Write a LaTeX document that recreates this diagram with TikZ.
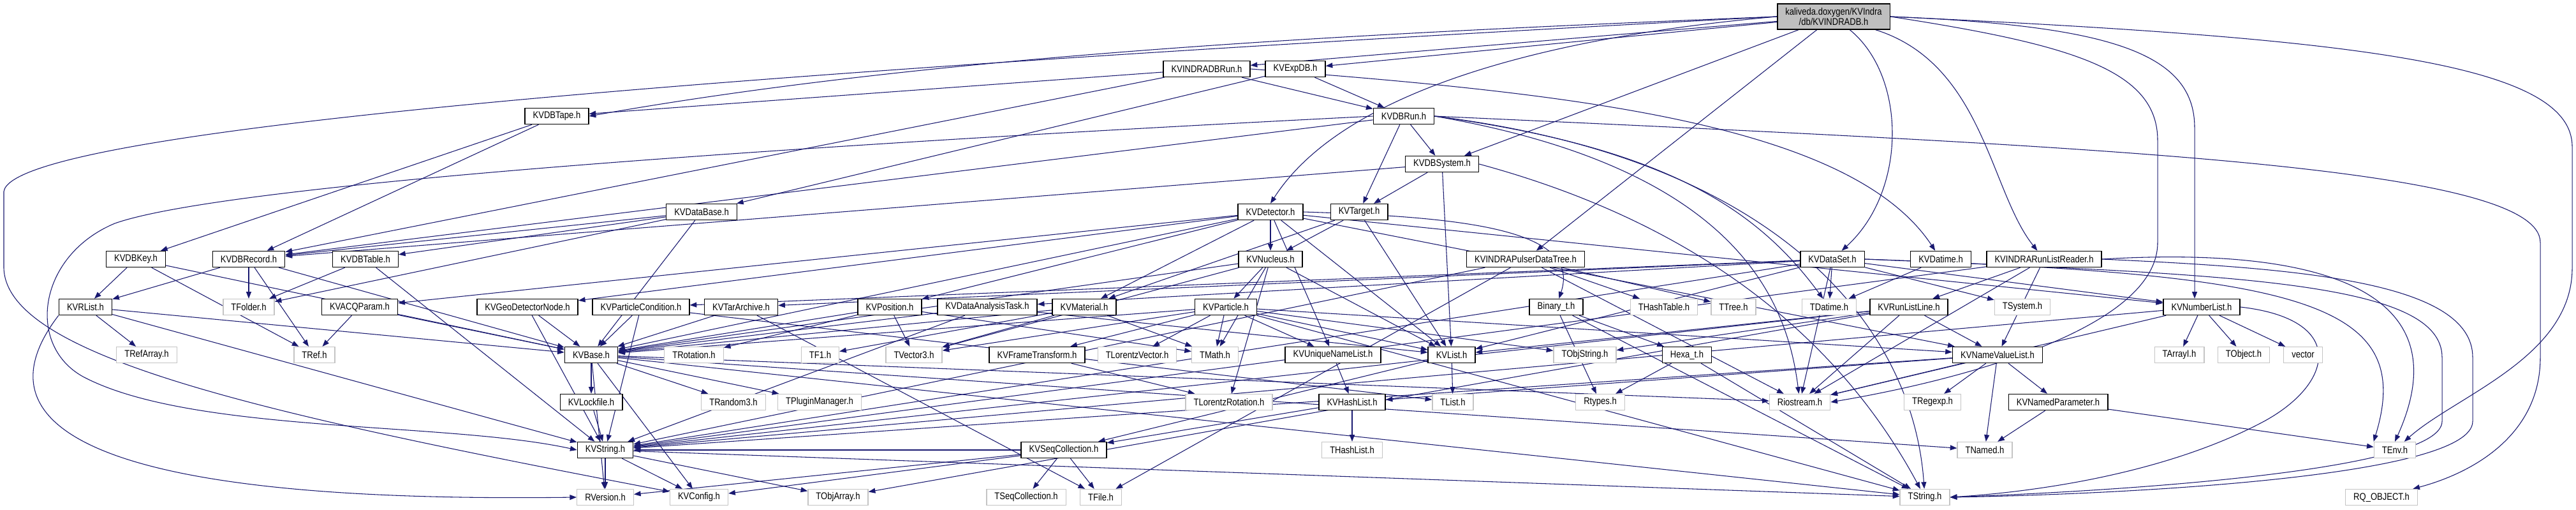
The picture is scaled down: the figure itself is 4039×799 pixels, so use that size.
\documentclass[tikz,border=0pt]{standalone}
\usepackage{fontspec}
\setmainfont{Liberation Sans}[FakeStretch=0.85]
\usepackage{tikz}
\usetikzlibrary{arrows.meta, backgrounds}
\definecolor{DGNavy}{RGB}{25,25,112}
\definecolor{DGGray}{RGB}{191,191,191}
\definecolor{DGLine}{RGB}{196,196,196}

\begin{document}
\begin{tikzpicture}[x=0.75pt, y=-0.75pt,
    hdr/.style={rectangle, draw=black, line width=1.1pt, fill=white,
                minimum height=18.75pt, inner xsep=9.4pt, inner ysep=0pt,
                font=\fontsize{11.5pt}{12pt}\selectfont},
    ext/.style={hdr, draw=DGLine, line width=1pt},
    rootf/.style={hdr, fill=DGGray, align=center, minimum height=30pt},
    arr/.style={-{Triangle[length=8pt, width=6pt]}, DGNavy, line width=0.8pt}
  ]
  % file being documented
  \node[rootf] (R) at (2875,26) {kaliveda.doxygen/KVIndra\\/db/KVINDRADB.h};

  % rank 1 - 4
  \node[hdr] (irun)     at (1892,108) {KVINDRADBRun.h};
  \node[hdr] (expdb)    at (2031,108) {KVExpDB.h};
  \node[hdr] (tape)     at (873,182)  {KVDBTape.h};
  \node[hdr] (dbrun)    at (2201,182) {KVDBRun.h};
  \node[hdr] (dbsys)    at (2261,257) {KVDBSystem.h};
  \node[hdr] (database) at (1100,332) {KVDataBase.h};
  \node[hdr] (detector) at (1992,332) {KVDetector.h};
  \node[hdr] (target)   at (2131,332) {KVTarget.h};

  % rank 5
  \node[hdr] (dbkey)    at (213,406)  {KVDBKey.h};
  \node[hdr] (dbrec)    at (390,406)  {KVDBRecord.h};
  \node[hdr] (dbtable)  at (573,406)  {KVDBTable.h};
  \node[hdr] (nucleus)  at (1992,406) {KVNucleus.h};
  \node[hdr] (pulser)   at (2392,406) {KVINDRAPulserDataTree.h};
  \node[hdr] (dataset)  at (2873,406) {KVDataSet.h};
  \node[hdr] (datime)   at (3043,406) {KVDatime.h};
  \node[hdr] (rlreader) at (3205,406) {KVINDRARunListReader.h};

  % rank 6
  \node[hdr] (rlist)      at (134,481)  {KVRList.h};
  \node[ext] (tfolder)    at (390,481)  {TFolder.h};
  \node[hdr] (acq)        at (564,481)  {KVACQParam.h};
  \node[hdr] (geonode)    at (827,481)  {KVGeoDetectorNode.h};
  \node[hdr] (partcond)   at (1005,481) {KVParticleCondition.h};
  \node[hdr] (tar)        at (1162,481) {KVTarArchive.h};
  \node[hdr] (position)   at (1395,481) {KVPosition.h};
  \node[hdr] (dat)        at (1548,481) {KVDataAnalysisTask.h};
  \node[hdr] (material)   at (1700,481) {KVMaterial.h};
  \node[hdr] (particle)   at (1922,481) {KVParticle.h};
  \node[hdr] (binary)     at (2440,481) {Binary\_t.h};
  \node[ext] (thashtable) at (2609,481) {THashTable.h};
  \node[ext] (ttree)      at (2718,481) {TTree.h};
  \node[ext] (tdatime)    at (2868,481) {TDatime.h};
  \node[hdr] (rlline)     at (2993,481) {KVRunListLine.h};
  \node[ext] (tsystem)    at (3171,481) {TSystem.h};
  \node[hdr] (numlist)    at (3452,481) {KVNumberList.h};

  % rank 7
  \node[ext] (trefarray)  at (230,556)  {TRefArray.h};
  \node[ext] (tref)       at (493,556)  {TRef.h};
  \node[hdr] (kvbase)     at (927,556)  {KVBase.h};
  \node[ext] (trotation)  at (1088,556) {TRotation.h};
  \node[ext] (tf1)        at (1286,556) {TF1.h};
  \node[ext] (tvector3)   at (1433,556) {TVector3.h};
  \node[hdr] (frame)      at (1626,556) {KVFrameTransform.h};
  \node[ext] (tlorentzv)  at (1783,556) {TLorentzVector.h};
  \node[ext] (tmath)      at (1905,556) {TMath.h};
  \node[hdr] (uniq)       at (2090,556) {KVUniqueNameList.h};
  \node[hdr] (kvlist)     at (2276,556) {KVList.h};
  \node[ext] (tobjstring) at (2485,556) {TObjString.h};
  \node[hdr] (hexa)       at (2645,556) {Hexa\_t.h};
  \node[hdr] (namevalue)  at (3132,556) {KVNameValueList.h};
  \node[ext] (tarrayi)    at (3417,556) {TArrayI.h};
  \node[ext] (tobject)    at (3518,556) {TObject.h};
  \node[ext] (vector)     at (3611,556) {vector};

  % rank 8
  \node[hdr] (lockfile)   at (927,630)  {KVLockfile.h};
  \node[ext] (trandom3)   at (1150,630) {TRandom3.h};
  \node[ext] (tplugin)    at (1285,630) {TPluginManager.h};
  \node[ext] (lorentzrot) at (1927,630) {TLorentzRotation.h};
  \node[hdr] (hashlist)   at (2120,630) {KVHashList.h};
  \node[ext] (tlist)      at (2278,630) {TList.h};
  \node[ext] (rtypes)     at (2509,630) {Rtypes.h};
  \node[ext] (riostream)  at (2822,630) {Riostream.h};
  \node[ext] (tregexp)    at (3030,630) {TRegexp.h};
  \node[hdr] (namedpar)   at (3227,630) {KVNamedParameter.h};

  % rank 9 - 10
  \node[hdr] (kvstring)   at (949,705)  {KVString.h};
  \node[hdr] (seqcoll)    at (1668,705) {KVSeqCollection.h};
  \node[ext] (thashlist)  at (2120,705) {THashList.h};
  \node[ext] (tnamed)     at (3112,705) {TNamed.h};
  \node[ext] (tenv)       at (3755,705) {TEnv.h};
  \node[ext] (rversion)   at (949,779)  {RVersion.h};
  \node[ext] (kvconfig)   at (1096,779) {KVConfig.h};
  \node[ext] (tobjarray)  at (1314,779) {TObjArray.h};
  \node[ext] (tseqcoll)   at (1609,779) {TSeqCollection.h};
  \node[ext] (tfile)      at (1726,779) {TFile.h};
  \node[ext] (tstring)    at (3018,779) {TString.h};
  \node[ext] (rqobject)   at (3734,779) {RQ\_OBJECT.h};

  \begin{pgfonlayer}{background}
    \path[use as bounding box, fill=white] (0,0) rectangle (4039,799);
    % plain includes
    \foreach \a/\b in {R/irun, R/expdb, R/dbsys, R/pulser,
        irun/tape, irun/dbrun, irun/dbrec, expdb/dbrun, expdb/database,
        tape/dbkey, tape/dbrec,
        dbrun/dbsys, dbrun/target, dbrun/dbrec,
        dbsys/target, dbsys/kvlist, dbsys/dbrec,
        database/dbtable, database/dbrec, database/tfolder, database/kvbase,
        detector/nucleus, detector/material, detector/position, detector/acq,
        detector/geonode, detector/kvlist, detector/uniq, detector/kvbase,
        detector/numlist, detector/namevalue,
        target/nucleus, target/material, target/kvlist,
        nucleus/particle, nucleus/kvbase, nucleus/kvlist, nucleus/tvector3,
        nucleus/tmath, nucleus/lorentzrot,
        particle/tvector3, particle/tlorentzv, particle/tmath, particle/frame,
        particle/kvbase, particle/uniq, particle/namevalue, particle/tobjstring,
        particle/kvlist, particle/tstring,
        material/kvbase, material/tvector3, material/tf1, material/tmath,
        position/tvector3, position/trotation, position/kvbase, position/tmath,
        frame/lorentzrot, dat/kvbase, dat/kvstring, dat/kvlist,
        geonode/kvbase, geonode/kvstring, partcond/kvbase, partcond/kvstring,
        partcond/tlist, tar/kvbase, tar/tfile, acq/tref, acq/kvbase,
        dbkey/rlist, dbkey/tref, dbkey/kvbase,
        dbrec/tfolder, dbrec/rlist, dbrec/tref, dbrec/kvbase,
        dbtable/tfolder, dbtable/kvstring,
        rlist/trefarray, rlist/kvbase, rlist/kvstring,
        pulser/thashtable, pulser/ttree, pulser/tfile, pulser/kvstring,
        pulser/riostream,
        binary/rtypes, binary/hexa, binary/tstring, hexa/rtypes, hexa/tstring,
        dataset/tdatime, dataset/tsystem, dataset/kvlist, dataset/partcond,
        dataset/tar, dataset/dat, dataset/numlist, dataset/kvstring,
        dataset/riostream, datime/tdatime,
        rlreader/rlline, rlreader/namevalue, rlreader/riostream, rlreader/kvstring,
        rlline/riostream, rlline/namevalue, rlline/kvlist, rlline/kvstring,
        rlline/tobjarray, rlline/tobjstring,
        numlist/tarrayi, numlist/tobject, numlist/vector, numlist/riostream,
        numlist/kvstring,
        namevalue/tregexp, namevalue/tnamed, namevalue/namedpar,
        namevalue/hashlist, namevalue/riostream, namevalue/kvstring,
        namedpar/tnamed, namedpar/tenv, uniq/hashlist,
        hashlist/thashlist, hashlist/seqcoll, kvlist/tlist, kvlist/seqcoll,
        seqcoll/tseqcoll, seqcoll/tfile, seqcoll/kvconfig, seqcoll/kvstring,
        seqcoll/rversion,
        kvbase/lockfile, kvbase/trandom3, kvbase/tplugin, kvbase/rversion,
        kvbase/kvconfig, kvbase/tstring, kvbase/tnamed, kvbase/riostream,
        lockfile/kvstring,
        kvstring/rversion, kvstring/kvconfig, kvstring/tobjarray, kvstring/tstring}
      \draw[arr] (\a) -- (\b);

    % long curved includes
    \draw[arr] (R.west) .. controls (2200,50) and (1500,80) .. (tape.east);
    \draw[arr] (R.west) .. controls (2400,60) and (2100,150) .. (detector.north);
    \draw[arr] (R) .. controls (2990,120) and (2990,300) .. (dataset);
    \draw[arr] (R) .. controls (3110,100) and (3120,300) .. (rlreader);
    \draw[arr] (irun.east) .. controls (2450,145) and (2900,190) .. (datime);
    \draw[arr] (dbrun.east) .. controls (2600,230) and (2750,320) .. (tdatime);
    \draw[arr] (detector.east) .. controls (2300,340) and (2480,360) .. (binary);
    \draw[arr] (dbrun.east) .. controls (2700,260) and (2800,450) .. (riostream);
    \draw[arr] (dbrun.east) .. controls (2800,250) and (3000,520) .. (tstring);
    \draw[arr] (dbsys.east) .. controls (2700,360) and (2900,560) .. (tstring);

    % round the left edge
    \draw[arr] (R.west) .. controls (1200,110) and (20,200) .. (6,300)
      -- (6,420) .. controls (10,560) and (420,650) .. (kvconfig);
    \draw[arr] (rlist.south west) .. controls (-20,640) and (60,790) .. (rversion.west);
    \draw[arr] (dbrun.west) .. controls (1200,230) and (350,290) .. (180,350)
      .. controls (60,400) and (40,540) .. (130,590)
      .. controls (300,680) and (700,660) .. (kvstring.west);

    % round the right edge
    \draw[arr] (R.east) .. controls (3700,60) and (4033,100) .. (4033,230)
      -- (4033,420) .. controls (4033,560) and (3850,620) .. (tenv);
    \draw[arr] (dbrun.east) .. controls (3300,230) and (3983,260) .. (3983,380)
      -- (3983,560) .. controls (3983,680) and (3880,740) .. (rqobject);
    \draw[arr] (R.east) .. controls (3300,40) and (3441,80) .. (3441,200)
      -- (3441,0 |- numlist.north);
    \draw[arr] (R.east) .. controls (3250,70) and (3383,110) .. (3383,220)
      -- (3383,380) .. controls (3383,520) and (3050,600) .. (riostream.east);
    \draw[arr] (dataset.east) .. controls (3500,430) and (3829,440) .. (3829,560)
      -- (3829,660) .. controls (3829,740) and (3300,770) .. (tstring.east);
    \draw[arr] (rlreader.east) .. controls (3600,420) and (3877,440) .. (3877,560)
      -- (3877,660) .. controls (3877,750) and (3300,775) .. (tstring.east);
    \draw[arr] (numlist.east) .. controls (3680,500) and (3660,600) .. (3550,660)
      .. controls (3400,740) and (3200,770) .. (tstring.east);
    \draw[arr] (rlreader.east) .. controls (3650,385) and (3860,460) .. (tenv.north);
    \draw[arr] (dataset.east) .. controls (3600,430) and (3790,470) .. (tenv.north west);
  \end{pgfonlayer}
\end{tikzpicture}
\end{document}
